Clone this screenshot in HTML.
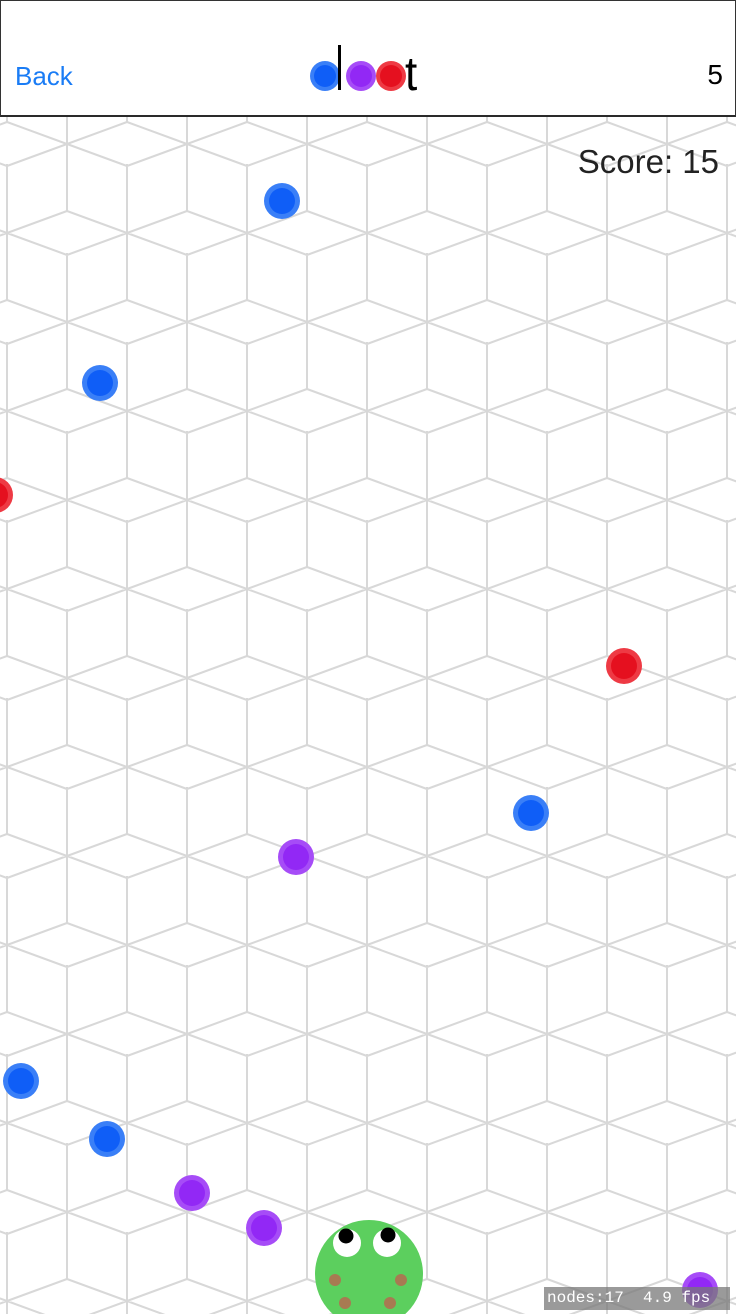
<!DOCTYPE html>
<html><head><meta charset="utf-8">
<style>
html,body{margin:0;padding:0;background:#fff;overflow:hidden;width:736px;height:1314px;}
body{position:relative;font-family:"Liberation Sans",sans-serif;}
#header{position:absolute;left:0;top:0;width:734px;height:114px;border:1px solid #333;border-bottom:2px solid #2a2a2a;background:#fff;z-index:2;}
#back{position:absolute;left:14px;top:60px;font-size:26px;color:#1a7cf5;}
#count{position:absolute;right:12px;top:58px;font-size:28px;color:#000;}
#score{position:absolute;right:17px;top:143px;font-size:33px;color:#222;z-index:2;}
#stats{position:absolute;left:544px;top:1287px;width:186px;height:23px;background:rgba(120,120,120,0.75);color:#fff;font-family:"Liberation Mono",monospace;font-size:16px;line-height:23px;white-space:pre;padding-left:3px;box-sizing:border-box;z-index:3;}
svg{position:absolute;left:0;top:0;display:block;}
</style></head>
<body>
<svg id="game" width="736" height="1314"></svg>
<div id="header">
  <div id="back">Back</div>
  <svg width="734" height="114">
    <circle cx="324" cy="75" r="15" fill="#3a7ff7"/><circle cx="324" cy="75" r="11" fill="#0f5ef7"/>
    <rect x="337" y="44" width="3" height="45" fill="#000"/>
    <circle cx="360" cy="75" r="15" fill="#a64cf7"/><circle cx="360" cy="75" r="11" fill="#9228f5"/>
    <circle cx="390" cy="75" r="15" fill="#ee3a44"/><circle cx="390" cy="75" r="11" fill="#e5101f"/>
    <text x="404" y="89" font-family="Liberation Sans, sans-serif" font-size="44" fill="#000" transform="translate(404 89) scale(1 1.1) translate(-404 -89)">t</text>
  </svg>
  <div id="count">5</div>
</div>
<div id="score">Score: 15</div>
<div id="stats">nodes:17  4.9 fps</div>
<script>
const dotColors = ["blue","blue","blue","blue","blue","red","red","purple","purple","purple","purple"];
const dotX = [282,100,531,21,107,624,-5,296,192,264,700];
const dotY = [201,383,813,1081,1139,666,495,857,1193,1228,1290];
const palette = {blue:["#3a7ff7","#0f5ef7"],red:["#ee3a44","#e5101f"],purple:["#a64cf7","#9228f5"]};
const NS="http://www.w3.org/2000/svg";
const svg=document.getElementById('game');
function mk(t,a){const e=document.createElementNS(NS,t);for(const k in a)e.setAttribute(k,a[k]);return e;}
const g=mk('g',{stroke:'#d8d8d8','stroke-width':'2',fill:'none'});


let d='';
for(let k=-2;k<=14;k++){
  const cx=7+60*k;
  const base=(Math.abs(k)%2===1)?144:55;
  for(let y0=base-356;y0<1500;y0+=178){
    d+=`M${cx} ${y0-69}L${cx} ${y0+67}`;
    d+=`M${cx-60} ${y0-22}L${cx} ${y0}L${cx+60} ${y0-22}`;
    d+=`M${cx-60} ${y0+22}L${cx} ${y0}L${cx+60} ${y0+22}`;
  }
}
g.appendChild(mk('path',{d:d}));
svg.appendChild(g);
for(let i=0;i<dotX.length;i++){
  const c=palette[dotColors[i]];
  const grp=mk('g',{});
  
  
  grp.appendChild(mk('circle',{cx:dotX[i],cy:dotY[i],r:18,fill:c[0]}));
  grp.appendChild(mk('circle',{cx:dotX[i],cy:dotY[i],r:13,fill:c[1]}));
  svg.appendChild(grp);
}
const f=mk('g',{});


f.appendChild(mk('circle',{cx:369,cy:1274,r:54,fill:'#5ccf5e'}));
f.appendChild(mk('circle',{cx:347,cy:1243,r:14,fill:'#fff'}));
f.appendChild(mk('circle',{cx:387,cy:1243,r:14,fill:'#fff'}));
f.appendChild(mk('circle',{cx:346,cy:1236,r:7.5,fill:'#000'}));
f.appendChild(mk('circle',{cx:388,cy:1235,r:7.5,fill:'#000'}));
[[335,1280],[401,1280],[345,1303],[390,1303]].forEach(p=>f.appendChild(mk('circle',{cx:p[0],cy:p[1],r:6,fill:'#a87a52'})));
svg.appendChild(f);
</script>
</body></html>
